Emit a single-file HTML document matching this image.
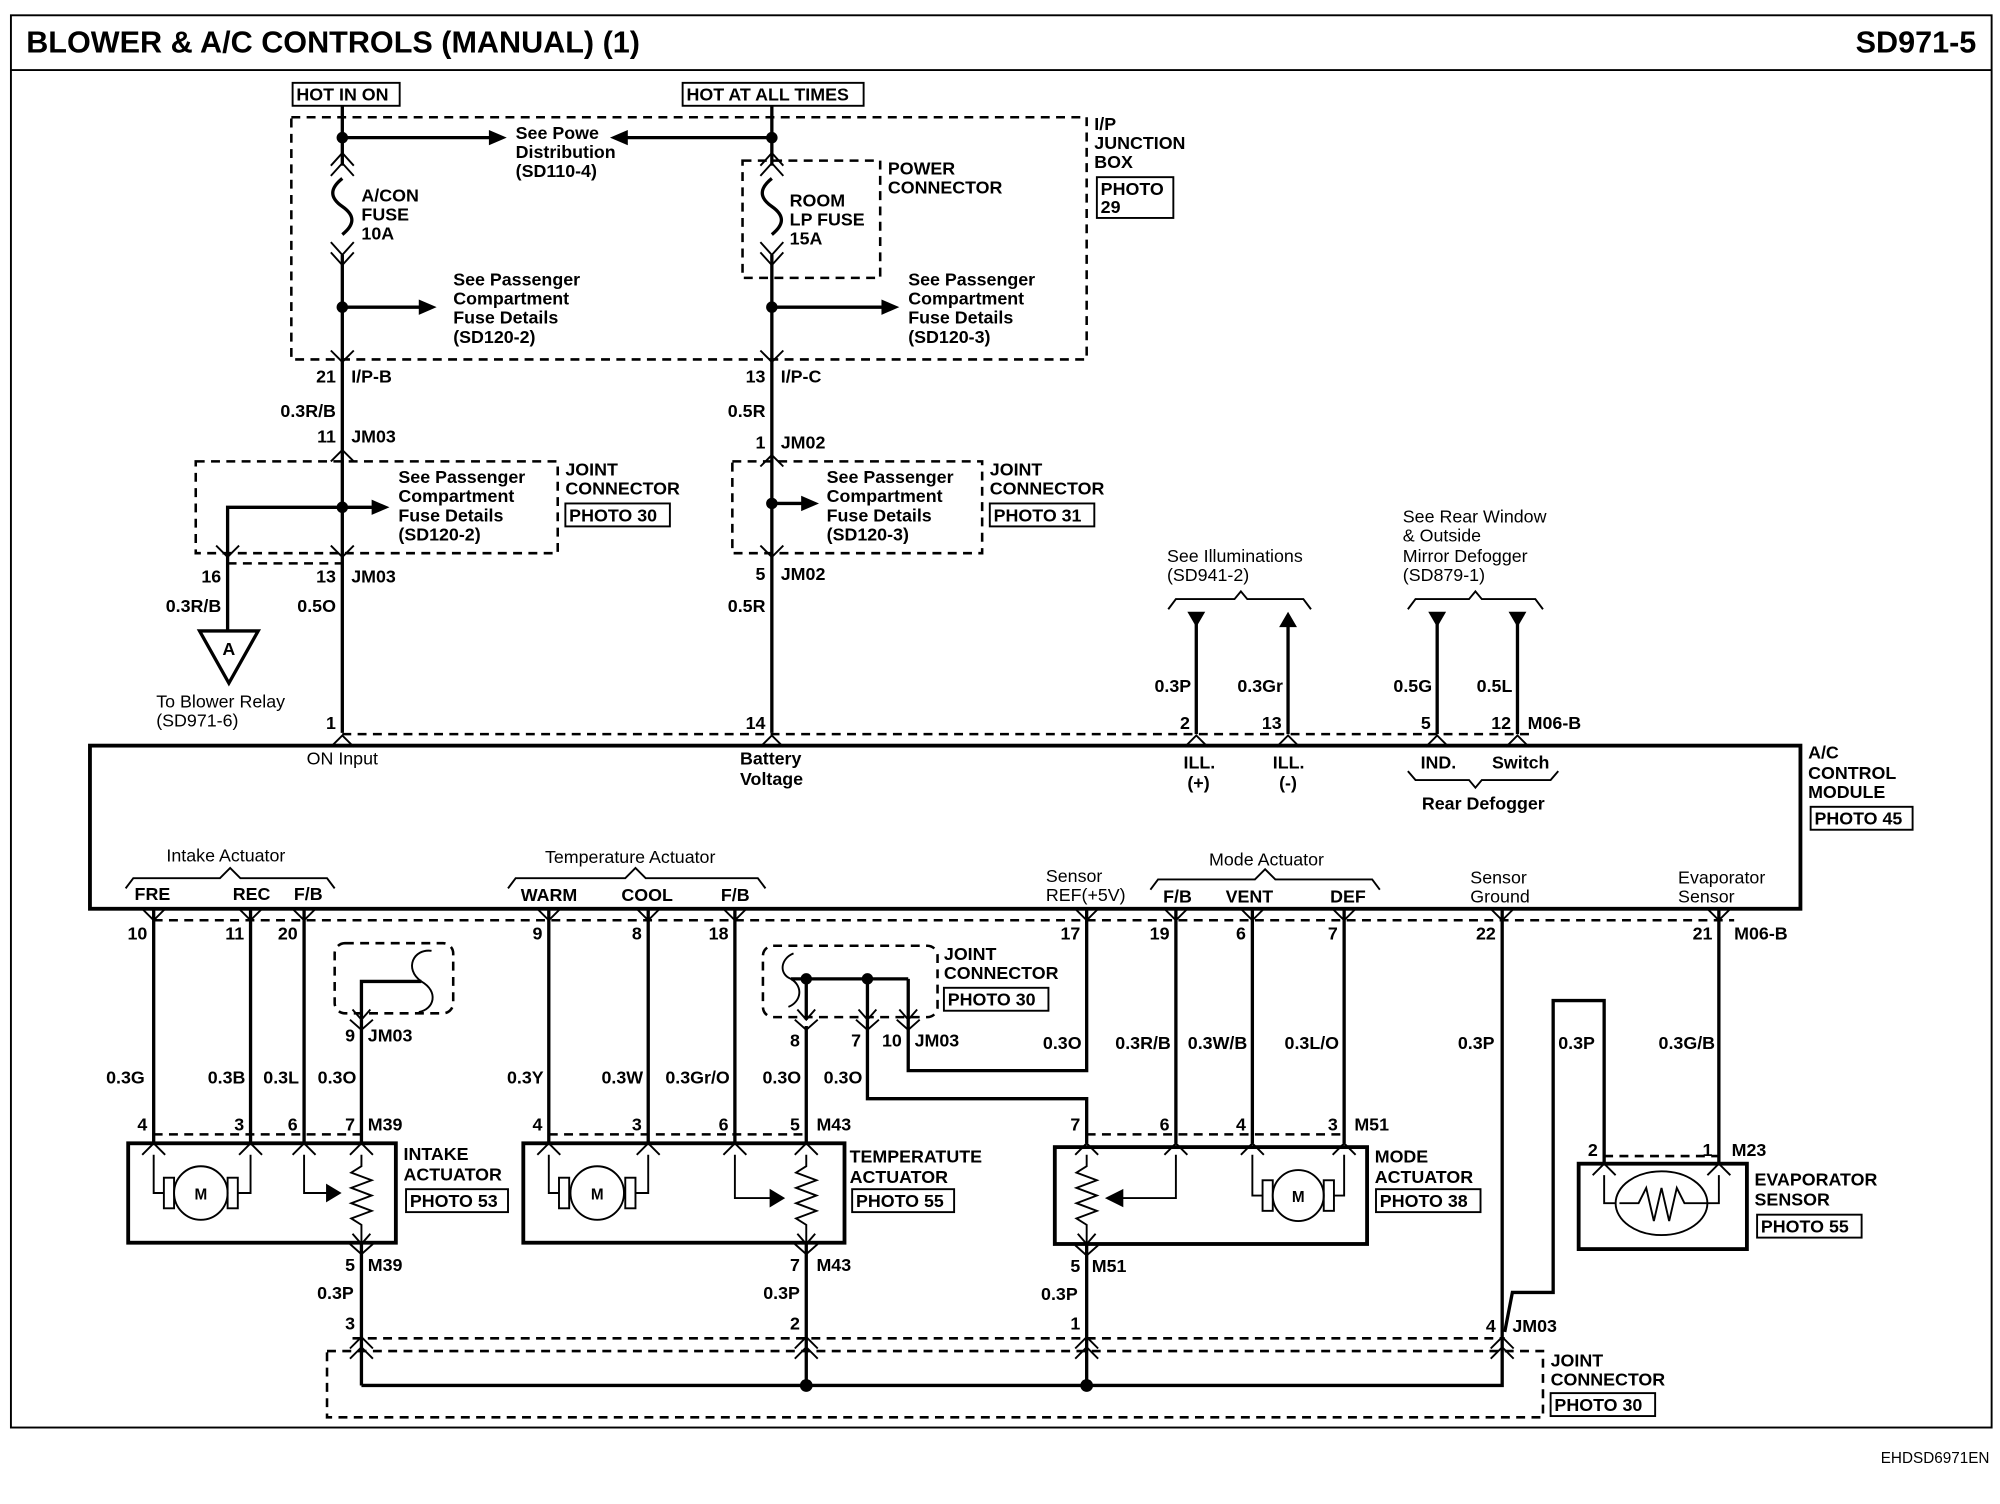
<!DOCTYPE html>
<html><head><meta charset="utf-8"><style>
html,body{margin:0;padding:0;background:#fff;}
svg{display:block}
text{font-family:"Liberation Sans",Arial,sans-serif;font-weight:bold;font-size:14px;fill:#000}
.t{font-size:14px}
.w{stroke:#000;stroke-width:2.6;fill:none}
.th{stroke:#000;stroke-width:1.5;fill:none}
.d{stroke:#000;stroke-width:2;fill:none;stroke-dasharray:7 5}
.b{stroke:#000;stroke-width:3;fill:none}
</style></head><body>
<svg width="2000" height="1504" viewBox="0 0 1568 1180" xmlns="http://www.w3.org/2000/svg">
<!-- frame -->
<rect x="8" y="12" width="1554" height="1108" class="th" stroke-width="1.5"/>
<line x1="8" y1="55" x2="1562" y2="55" class="th"/>
<text x="20" y="41" style="font-size:24px">BLOWER &amp; A/C CONTROLS (MANUAL) (1)</text>
<text x="1550" y="41" text-anchor="end" style="font-size:24px">SD971-5</text>
<text x="1475" y="1148" style="font-size:12px;font-weight:normal">EHDSD6971EN</text>

<!-- top labels -->
<rect x="229" y="65" width="84" height="18" class="th"/><text x="232" y="79">HOT IN ON</text>
<rect x="535" y="65" width="142" height="18" class="th"/><text x="538" y="79">HOT AT ALL TIMES</text>
<rect x="228" y="92" width="624" height="190" class="d"/>
<text x="858" y="102">I/P</text><text x="858" y="117">JUNCTION</text><text x="858" y="132">BOX</text>
<rect x="860" y="139" width="60" height="32" class="th"/><text x="863" y="153">PHOTO</text><text x="863" y="167">29</text>

<!-- left main wire -->
<line x1="268" y1="83" x2="268" y2="130" class="w"/>
<line x1="268" y1="200" x2="268" y2="575" class="w"/>
<circle cx="268" cy="108" r="4.5"/>
<line x1="268" y1="108" x2="385" y2="108" class="w"/><polygon points="397,108 383,102 383,114"/>
<text x="404" y="109">See Powe</text><text x="404" y="124">Distribution</text><text x="404" y="139">(SD110-4)</text>
<line x1="605" y1="108" x2="490" y2="108" class="w"/><polygon points="478,108 492,102 492,114"/>
<!-- fuse left -->
<polyline points="259,138 268,128 277,138" class="th"/><polyline points="259,130 268,120 277,130" class="th"/>
<path d="M268,140 c-10,8 -10,15 0,22 c10,7 10,14 0,22" class="w"/>
<polyline points="259,190 268,200 277,190" class="th"/><polyline points="259,198 268,208 277,198" class="th"/>
<text x="283" y="158">A/CON</text><text x="283" y="173">FUSE</text><text x="283" y="188">10A</text>
<circle cx="268" cy="241" r="4.5"/>
<line x1="268" y1="241" x2="330" y2="241" class="w"/><polygon points="342,241 328,235 328,247"/>
<text x="355" y="224">See Passenger</text><text x="355" y="239">Compartment</text><text x="355" y="254">Fuse Details</text><text x="355" y="269">(SD120-2)</text>

<!-- middle main wire -->
<line x1="605" y1="83" x2="605" y2="130" class="w"/>
<line x1="605" y1="200" x2="605" y2="575" class="w"/>
<circle cx="605" cy="108" r="4.5"/>
<rect x="582" y="126" width="108" height="92" class="d"/>
<polyline points="596,138 605,128 614,138" class="th"/><polyline points="596,130 605,120 614,130" class="th"/>
<path d="M605,140 c-10,8 -10,15 0,22 c10,7 10,14 0,22" class="w"/>
<polyline points="596,190 605,200 614,190" class="th"/><polyline points="596,198 605,208 614,198" class="th"/>
<text x="619" y="162">ROOM</text><text x="619" y="177">LP FUSE</text><text x="619" y="192">15A</text>
<text x="696" y="137">POWER</text><text x="696" y="152">CONNECTOR</text>
<circle cx="605" cy="241" r="4.5"/>
<line x1="605" y1="241" x2="693" y2="241" class="w"/><polygon points="705,241 691,235 691,247"/>
<text x="712" y="224">See Passenger</text><text x="712" y="239">Compartment</text><text x="712" y="254">Fuse Details</text><text x="712" y="269">(SD120-3)</text>

<!-- pin labels left -->
<polyline points="259,275 268,284 277,275" class="th"/>
<text x="263" y="300" text-anchor="end">21</text><text x="275" y="300">I/P-B</text>
<text x="263" y="327" text-anchor="end">0.3R/B</text>
<text x="263" y="347" text-anchor="end">11</text><text x="275" y="347">JM03</text>
<polyline points="259,362 268,353 277,362" class="th"/>
<rect x="153" y="362" width="284" height="72" class="d"/>
<circle cx="268" cy="398" r="4.5"/>
<line x1="268" y1="398" x2="292" y2="398" class="w"/><polygon points="305,398 291,392 291,404"/>
<text x="312" y="379">See Passenger</text><text x="312" y="394">Compartment</text><text x="312" y="409">Fuse Details</text><text x="312" y="424">(SD120-2)</text>
<polyline points="268,398 178,398 178,495" class="w"/>
<polyline points="169,428 178,437 187,428" class="th"/><polyline points="259,428 268,437 277,428" class="th"/>
<line x1="178" y1="442" x2="268" y2="442" class="d" stroke-width="1.2"/>
<text x="443" y="373">JOINT</text><text x="443" y="388">CONNECTOR</text>
<rect x="443" y="395" width="82" height="18" class="th"/><text x="446" y="409">PHOTO 30</text>
<text x="173" y="457" text-anchor="end">16</text>
<text x="263" y="457" text-anchor="end">13</text><text x="275" y="457">JM03</text>
<text x="173" y="480" text-anchor="end">0.3R/B</text>
<text x="263" y="480" text-anchor="end">0.5O</text>
<polygon points="156,495 202,495 179,536" class="w" fill="#fff"/>
<text x="179" y="514" text-anchor="middle">A</text>
<text x="122" y="555" style="font-weight:normal">To Blower Relay</text><text x="122" y="570" style="font-weight:normal">(SD971-6)</text>

<!-- pin labels middle -->
<polyline points="596,275 605,284 614,275" class="th"/>
<text x="600" y="300" text-anchor="end">13</text><text x="612" y="300">I/P-C</text>
<text x="600" y="327" text-anchor="end">0.5R</text>
<text x="600" y="352" text-anchor="end">1</text><text x="612" y="352">JM02</text>
<polyline points="596,366 605,357 614,366" class="th"/>
<rect x="574" y="362" width="196" height="72" class="d"/>
<circle cx="605" cy="395" r="4.5"/>
<line x1="605" y1="395" x2="630" y2="395" class="w"/><polygon points="642,395 628,389 628,401"/>
<text x="648" y="379">See Passenger</text><text x="648" y="394">Compartment</text><text x="648" y="409">Fuse Details</text><text x="648" y="424">(SD120-3)</text>
<polyline points="596,428 605,437 614,428" class="th"/>
<text x="776" y="373">JOINT</text><text x="776" y="388">CONNECTOR</text>
<rect x="776" y="395" width="82" height="18" class="th"/><text x="779" y="409">PHOTO 31</text>
<text x="600" y="455" text-anchor="end">5</text><text x="612" y="455">JM02</text>
<text x="600" y="480" text-anchor="end">0.5R</text>

<!-- right top wires -->
<text x="915" y="441" style="font-weight:normal">See Illuminations</text><text x="915" y="456" style="font-weight:normal">(SD941-2)</text>
<polyline points="916,478 922,470 968,470 973,464 978,470 1022,470 1028,478" class="th"/>
<text x="1100" y="410" style="font-weight:normal">See Rear Window</text><text x="1100" y="425" style="font-weight:normal">&amp; Outside</text><text x="1100" y="441" style="font-weight:normal">Mirror Defogger</text><text x="1100" y="456" style="font-weight:normal">(SD879-1)</text>
<polyline points="1104,478 1110,470 1152,470 1157,464 1162,470 1204,470 1210,478" class="th"/>
<line x1="938" y1="485" x2="938" y2="576" class="w"/><polygon points="931,480 945,480 938,492"/>
<line x1="1010" y1="488" x2="1010" y2="576" class="w"/><polygon points="1003,492 1017,492 1010,480"/>
<line x1="1127" y1="485" x2="1127" y2="576" class="w"/><polygon points="1120,480 1134,480 1127,492"/>
<line x1="1190" y1="485" x2="1190" y2="576" class="w"/><polygon points="1183,480 1197,480 1190,492"/>
<text x="934" y="543" text-anchor="end">0.3P</text>
<text x="1006" y="543" text-anchor="end">0.3Gr</text>
<text x="1123" y="543" text-anchor="end">0.5G</text>
<text x="1186" y="543" text-anchor="end">0.5L</text>
<text x="933" y="572" text-anchor="end">2</text>
<text x="1005" y="572" text-anchor="end">13</text>
<text x="1122" y="572" text-anchor="end">5</text>
<text x="1185" y="572" text-anchor="end">12</text><text x="1198" y="572">M06-B</text>
<text x="263" y="572" text-anchor="end">1</text>
<text x="600" y="572" text-anchor="end">14</text>
<line x1="268" y1="576" x2="1200" y2="576" class="d" stroke-width="1.2"/>
<g class="th">
<polyline points="259,586 268,577 277,586"/><polyline points="596,586 605,577 614,586"/>
<polyline points="929,586 938,577 947,586"/><polyline points="1001,586 1010,577 1019,586"/>
<polyline points="1118,586 1127,577 1136,586"/><polyline points="1181,586 1190,577 1199,586"/>
</g>

<!-- module -->
<rect x="70" y="585" width="1342" height="128" class="b"/>
<text x="1418" y="595">A/C</text><text x="1418" y="611">CONTROL</text><text x="1418" y="626">MODULE</text>
<rect x="1420" y="633" width="80" height="18" class="th"/><text x="1423" y="647">PHOTO 45</text>
<text x="240" y="600" style="font-weight:normal;font-size:14px">ON Input</text>
<text x="580" y="600">Battery</text><text x="580" y="616">Voltage</text>
<text x="928" y="603">ILL.</text><text x="931" y="619">(+)</text>
<text x="998" y="603">ILL.</text><text x="1003" y="619">(-)</text>
<text x="1114" y="603">IND.</text><text x="1170" y="603">Switch</text>
<polyline points="1104,605 1110,612 1152,612 1157,618 1162,612 1216,612 1222,605" class="th"/>
<text x="1115" y="635">Rear Defogger</text>

<text x="130" y="676" style="font-weight:normal">Intake Actuator</text>
<polyline points="98,697 104,689 172,689 180,681 188,689 256,689 262,697" class="th"/>
<text x="105" y="706">FRE</text><text x="182" y="706">REC</text><text x="230" y="706">F/B</text>
<text x="427" y="677" style="font-weight:normal">Temperature Actuator</text>
<polyline points="398,697 404,689 490,689 498,681 506,689 594,689 600,697" class="th"/>
<text x="408" y="707">WARM</text><text x="487" y="707">COOL</text><text x="565" y="707">F/B</text>
<text x="820" y="692" style="font-weight:normal">Sensor</text><text x="820" y="707" style="font-weight:normal">REF(+5V)</text>
<text x="948" y="679" style="font-weight:normal">Mode Actuator</text>
<polyline points="902,698 908,690 984,690 992,682 1000,690 1076,690 1082,698" class="th"/>
<text x="912" y="708">F/B</text><text x="961" y="708">VENT</text><text x="1043" y="708">DEF</text>
<text x="1153" y="693" style="font-weight:normal">Sensor</text><text x="1153" y="708" style="font-weight:normal">Ground</text>
<text x="1316" y="693" style="font-weight:normal">Evaporator</text><text x="1316" y="708" style="font-weight:normal">Sensor</text>

<line x1="120" y1="722" x2="1360" y2="722" class="d" stroke-width="1.2"/>
<g class="th">
<polyline points="111,713 120,722 129,713"/><polyline points="187,713 196,722 205,713"/><polyline points="229,713 238,722 247,713"/>
<polyline points="421,713 430,722 439,713"/><polyline points="499,713 508,722 517,713"/><polyline points="567,713 576,722 585,713"/>
<polyline points="843,713 852,722 861,713"/><polyline points="913,713 922,722 931,713"/><polyline points="973,713 982,722 991,713"/>
<polyline points="1045,713 1054,722 1063,713"/><polyline points="1169,713 1178,722 1187,713"/><polyline points="1339,713 1348,722 1357,713"/>
</g>
<text x="115" y="737" text-anchor="end">10</text><text x="191" y="737" text-anchor="end">11</text><text x="233" y="737" text-anchor="end">20</text>
<text x="425" y="737" text-anchor="end">9</text><text x="503" y="737" text-anchor="end">8</text><text x="571" y="737" text-anchor="end">18</text>
<text x="847" y="737" text-anchor="end">17</text><text x="917" y="737" text-anchor="end">19</text><text x="977" y="737" text-anchor="end">6</text>
<text x="1049" y="737" text-anchor="end">7</text><text x="1173" y="737" text-anchor="end">22</text><text x="1343" y="737" text-anchor="end">21</text><text x="1360" y="737">M06-B</text>

<!-- vertical wires down -->
<g class="w">
<line x1="120" y1="713" x2="120" y2="897"/><line x1="196" y1="713" x2="196" y2="897"/><line x1="238" y1="713" x2="238" y2="897"/>
<line x1="283" y1="800" x2="283" y2="897"/>
<line x1="430" y1="713" x2="430" y2="897"/><line x1="508" y1="713" x2="508" y2="897"/><line x1="576" y1="713" x2="576" y2="897"/>
<line x1="632" y1="805" x2="632" y2="897"/>
<line x1="922" y1="713" x2="922" y2="897"/><line x1="982" y1="713" x2="982" y2="897"/><line x1="1054" y1="713" x2="1054" y2="897"/>
<line x1="1178" y1="713" x2="1178" y2="1060"/><line x1="1348" y1="713" x2="1348" y2="913"/>
<polyline points="852,713 852,840 712,840 712,800"/>
<polyline points="852,897 852,862 680,862 680,800"/>
<polyline points="1258,913 1258,785 1218,785 1218,1014 1186,1014 1180,1045"/>
</g>
<!-- JM03 left small -->
<rect x="262" y="740" width="93" height="55" class="d" rx="8"/>
<polyline points="283,800 283,770 330,770" class="w"/>
<path d="M330,770 c-14,-10 -6,-26 8,-24 M330,770 c14,8 10,22 -2,24" class="th" stroke-width="2"/>
<polyline points="276,792 283,800 290,792" class="th"/><polyline points="274,800 283,808 292,800" class="th"/>
<text x="278" y="817" text-anchor="end">9</text><text x="288" y="817">JM03</text>
<!-- JM03 temperature joint -->
<rect x="598" y="742" width="137" height="56" class="d" rx="8"/>
<line x1="620" y1="768" x2="712" y2="768" class="w"/>
<polyline points="712,768 712,800" class="w"/><polyline points="680,768 680,800" class="w"/><polyline points="632,768 632,800" class="w"/>
<path d="M620,768 c-10,-4 -8,-16 2,-20 M620,768 c10,6 8,18 -2,22" class="th" stroke-width="2"/>
<circle cx="632" cy="768" r="4.5"/><circle cx="680" cy="768" r="4.5"/>
<g class="th"><polyline points="625,792 632,800 639,792"/><polyline points="673,792 680,800 687,792"/><polyline points="705,792 712,800 719,792"/>
<polyline points="623,800 632,808 641,800"/><polyline points="671,800 680,808 689,800"/><polyline points="703,800 712,808 721,800"/></g>
<text x="740" y="753">JOINT</text><text x="740" y="768">CONNECTOR</text>
<rect x="740" y="775" width="82" height="18" class="th"/><text x="743" y="789">PHOTO 30</text>
<text x="627" y="821" text-anchor="end">8</text><text x="675" y="821" text-anchor="end">7</text><text x="707" y="821" text-anchor="end">10</text><text x="717" y="821">JM03</text>

<!-- wire labels -->
<text x="113" y="850" text-anchor="end">0.3G</text><text x="192" y="850" text-anchor="end">0.3B</text><text x="234" y="850" text-anchor="end">0.3L</text><text x="279" y="850" text-anchor="end">0.3O</text>
<text x="426" y="850" text-anchor="end">0.3Y</text><text x="504" y="850" text-anchor="end">0.3W</text><text x="572" y="850" text-anchor="end">0.3Gr/O</text><text x="628" y="850" text-anchor="end">0.3O</text><text x="676" y="850" text-anchor="end">0.3O</text>
<text x="848" y="823" text-anchor="end">0.3O</text>
<text x="918" y="823" text-anchor="end">0.3R/B</text><text x="978" y="823" text-anchor="end">0.3W/B</text><text x="1050" y="823" text-anchor="end">0.3L/O</text>
<text x="1172" y="823" text-anchor="end">0.3P</text><text x="1222" y="823">0.3P</text><text x="1345" y="823" text-anchor="end">0.3G/B</text>

<!-- upper connector pins of actuators -->
<text x="115" y="887" text-anchor="end">4</text><text x="191" y="887" text-anchor="end">3</text><text x="233" y="887" text-anchor="end">6</text><text x="278" y="887" text-anchor="end">7</text><text x="288" y="887">M39</text>
<text x="425" y="887" text-anchor="end">4</text><text x="503" y="887" text-anchor="end">3</text><text x="571" y="887" text-anchor="end">6</text><text x="627" y="887" text-anchor="end">5</text><text x="640" y="887">M43</text>
<text x="847" y="887" text-anchor="end">7</text><text x="917" y="887" text-anchor="end">6</text><text x="977" y="887" text-anchor="end">4</text><text x="1049" y="887" text-anchor="end">3</text><text x="1062" y="887">M51</text>
<text x="1253" y="907" text-anchor="end">2</text><text x="1343" y="907" text-anchor="end">1</text><text x="1358" y="907">M23</text>
<line x1="120" y1="890" x2="283" y2="890" class="d" stroke-width="1.2"/>
<line x1="430" y1="890" x2="632" y2="890" class="d" stroke-width="1.2"/>
<line x1="852" y1="890" x2="1054" y2="890" class="d" stroke-width="1.2"/>
<line x1="1258" y1="907" x2="1348" y2="907" class="d" stroke-width="1.2"/>
<g class="th">
<polyline points="111,906 120,897 129,906"/><polyline points="187,906 196,897 205,906"/><polyline points="229,906 238,897 247,906"/><polyline points="274,906 283,897 292,906"/>
<polyline points="421,906 430,897 439,906"/><polyline points="499,906 508,897 517,906"/><polyline points="567,906 576,897 585,906"/><polyline points="623,906 632,897 641,906"/>
<polyline points="843,906 852,897 861,906"/><polyline points="913,906 922,897 931,906"/><polyline points="973,906 982,897 991,906"/><polyline points="1045,906 1054,897 1063,906"/>
<polyline points="1249,922 1258,913 1267,922"/><polyline points="1339,922 1348,913 1357,922"/>
</g>

<!-- intake actuator -->
<rect x="100" y="897" width="210" height="78" class="b" fill="#f4f4f4"/>
<text x="316" y="910">INTAKE</text><text x="316" y="926">ACTUATOR</text>
<rect x="318" y="933" width="80" height="18" class="th"/><text x="321" y="947">PHOTO 53</text>
<g class="th" stroke-width="2">
<polyline points="120,906 120,936 128,936"/><rect x="128" y="924" width="8" height="24"/><circle cx="157" cy="936" r="21" fill="#fff"/><rect x="178" y="924" width="8" height="24"/><polyline points="186,936 196,936 196,906"/>
<polyline points="238,906 238,936 256,936"/><polygon points="256,930 266,936 256,942" fill="#000"/>
<polyline points="283,906 283,915 275,920 291,926 275,932 291,938 275,944 291,950 275,956 283,961 283,975"/>
<polyline points="276,968 283,976 290,968"/>
</g>
<text x="157" y="941" text-anchor="middle" style="font-size:12px">M</text>
<!-- temp actuator -->
<rect x="410" y="897" width="252" height="78" class="b" fill="#f4f4f4"/>
<text x="666" y="912">TEMPERATUTE</text><text x="666" y="928">ACTUATOR</text>
<rect x="668" y="933" width="80" height="18" class="th"/><text x="671" y="947">PHOTO 55</text>
<g class="th" stroke-width="2">
<polyline points="430,906 430,936 438,936"/><rect x="438" y="924" width="8" height="24"/><circle cx="468" cy="936" r="21" fill="#fff"/><rect x="490" y="924" width="8" height="24"/><polyline points="498,936 508,936 508,906"/>
<polyline points="576,906 576,940 604,940"/><polygon points="604,934 614,940 604,946" fill="#000"/>
<polyline points="632,906 632,915 624,920 640,926 624,932 640,938 624,944 640,950 624,956 632,961 632,975"/>
<polyline points="625,968 632,976 639,968"/>
</g>
<text x="468" y="941" text-anchor="middle" style="font-size:12px">M</text>
<!-- mode actuator -->
<rect x="827" y="900" width="245" height="76" class="b" fill="#f6f6f6"/>
<text x="1078" y="912">MODE</text><text x="1078" y="928">ACTUATOR</text>
<rect x="1079" y="933" width="82" height="18" class="th"/><text x="1082" y="947">PHOTO 38</text>
<g class="th" stroke-width="2">
<polyline points="852,906 852,915 844,920 860,926 844,932 860,938 844,944 860,950 844,956 852,961 852,976"/>
<polyline points="922,906 922,940 880,940"/><polygon points="880,934 868,940 880,946" fill="#000"/>
<polyline points="982,906 982,938 990,938"/><rect x="990" y="926" width="8" height="24"/><circle cx="1018" cy="938" r="20" fill="#fff"/><rect x="1038" y="926" width="8" height="24"/><polyline points="1046,938 1054,938 1054,906"/>
<polyline points="845,968 852,976 859,968"/>
</g>
<text x="1018" y="943" text-anchor="middle" style="font-size:12px">M</text>
<!-- evaporator sensor -->
<rect x="1238" y="913" width="132" height="67" class="b" fill="#f6f6f6"/>
<g class="th" stroke-width="2">
<polyline points="1258,922 1258,944 1270,944"/><ellipse cx="1303" cy="944" rx="36" ry="25" fill="#fff"/>
<polyline points="1270,944 1285,944 1291,932 1297,958 1303,932 1309,958 1315,932 1321,944 1348,944 1348,922"/>
</g>
<text x="1376" y="930">EVAPORATOR</text><text x="1376" y="946">SENSOR</text>
<rect x="1378" y="953" width="82" height="18" class="th"/><text x="1381" y="967">PHOTO 55</text>

<!-- bottom pins -->
<polyline points="274,976 283,984 292,976" class="th"/><polyline points="623,976 632,984 641,976" class="th"/><polyline points="843,977 852,985 861,977" class="th"/>
<text x="278" y="997" text-anchor="end">5</text><text x="288" y="997">M39</text>
<text x="627" y="997" text-anchor="end">7</text><text x="640" y="997">M43</text>
<text x="847" y="998" text-anchor="end">5</text><text x="856" y="998">M51</text>
<line x1="283" y1="976" x2="283" y2="1087" class="w"/>
<line x1="632" y1="976" x2="632" y2="1087" class="w"/>
<line x1="852" y1="976" x2="852" y2="1087" class="w"/>
<text x="277" y="1019" text-anchor="end">0.3P</text><text x="627" y="1019" text-anchor="end">0.3P</text><text x="845" y="1020" text-anchor="end">0.3P</text>
<text x="278" y="1043" text-anchor="end">3</text><text x="627" y="1043" text-anchor="end">2</text><text x="847" y="1043" text-anchor="end">1</text>
<text x="1173" y="1045" text-anchor="end">4</text><text x="1186" y="1045">JM03</text>
<line x1="276" y1="1050" x2="1180" y2="1050" class="d" stroke-width="1.2"/>
<rect x="256" y="1060" width="954" height="52" class="d"/>
<g class="th">
<polyline points="274,1058 283,1049 292,1058"/><polyline points="274,1066 283,1057 292,1066"/>
<polyline points="623,1058 632,1049 641,1058"/><polyline points="623,1066 632,1057 641,1066"/>
<polyline points="843,1058 852,1049 861,1058"/><polyline points="843,1066 852,1057 861,1066"/>
<polyline points="1169,1058 1178,1049 1187,1058"/><polyline points="1169,1066 1178,1057 1187,1066"/>
</g>
<polyline points="283,1087 1178,1087 1178,1060" class="w"/>
<circle cx="632" cy="1087" r="5"/><circle cx="852" cy="1087" r="5"/>
<text x="1216" y="1072">JOINT</text><text x="1216" y="1087">CONNECTOR</text>
<rect x="1216" y="1093" width="82" height="18" class="th"/><text x="1219" y="1107">PHOTO 30</text>
</svg>
</body></html>
